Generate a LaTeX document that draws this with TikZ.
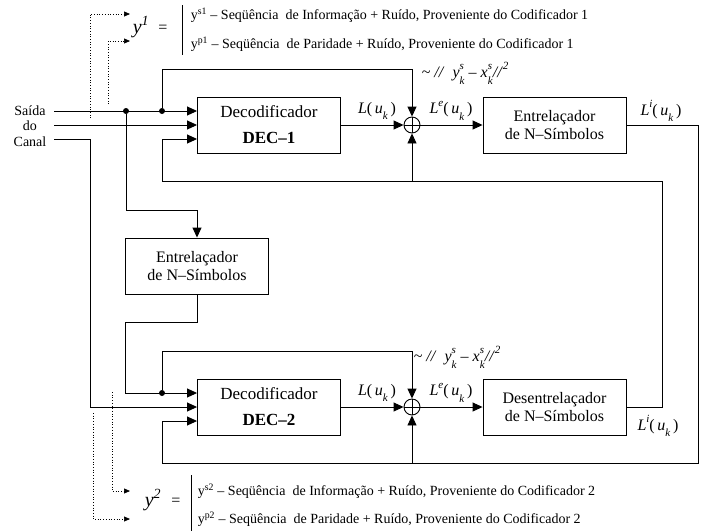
\documentclass[tikz,border=0pt]{standalone}
\usepackage{fontspec}
\setmainfont{Liberation Serif}
\usetikzlibrary{arrows.meta}

\newcommand{\idx}[1]{{\fontsize{11}{11}\selectfont\textit{#1}}}
\newcommand{\Luk}[1]{\textit{L}\raisebox{0.45em}{\idx{#1}}(\,\textit{u}\raisebox{-0.4em}{\idx{k}}\,)}
\newcommand{\supsub}[2]{\rlap{\raisebox{0.5em}{\idx{#1}}}\raisebox{-0.45em}{\idx{#2}}}
\newcommand{\distance}{\textasciitilde\ \textit{//}\ \ \textit{y}\supsub{s}{k}\ –\ \textit{x}\supsub{s}{k}\textit{//}\raisebox{0.5em}{\idx{2}}}

\begin{document}
\begin{tikzpicture}[x=1pt, y=-1pt, >={Triangle[length=10pt,width=9pt]}, line width=0.9pt,
  block/.style={draw, minimum width=143pt, minimum height=56pt, align=center, font=\fontsize{16}{18}\selectfont},
  decblock/.style={block, font=\fontsize{17}{26}\selectfont},
  sum/.style={draw, circle, minimum size=16pt, inner sep=0pt,
    path picture={\draw (path picture bounding box.north) -- (path picture bounding box.south)
      (path picture bounding box.west) -- (path picture bounding box.east);}},
  dot/.style={circle, fill, inner sep=0pt, minimum size=6pt},
  lab/.style={font=\fontsize{16}{18}\selectfont},
  legend/.style={anchor=west, font=\fontsize{14}{16}\selectfont},
  hint/.style={dotted, line width=0.7pt, -{Triangle[length=6pt,width=5pt]}}]
\useasboundingbox (0,0) rectangle (707,531);

\node[name=canal, align=center, font=\fontsize{14}{15.5}\selectfont] at (30,126) {Saída\\do\\Canal};
\coordinate (in_1) at (54,111);
\coordinate (in_2) at (54,125);
\coordinate (in_3) at (54,139);

\node[decblock, name=dec_1] at (269,125) {Decodificador\\\textbf{DEC–1}};
\node[sum, name=sum_1] at (412,125) {};
\node[block, name=ent_1] at (554.5,125) {Entrelaçador\\de N–Símbolos};
\node[block, name=ent_2] at (197,266) {Entrelaçador\\de N–Símbolos};
\node[decblock, name=dec_2] at (269,407) {Decodificador\\\textbf{DEC–2}};
\node[sum, name=sum_2] at (412,407) {};
\node[block, name=desent] at (554.5,407) {Desentrelaçador\\de N–Símbolos};

\node[dot, name=dot_1] at (126,111) {};
\node[dot, name=dot_2] at (162,111) {};
\node[dot, name=dot_3] at (162,393) {};

\coordinate (fb_1) at (162,181);
\coordinate (fb_2) at (162,463);

\draw[->] (in_1) -- (dec_1.west |- in_1);
\draw[->] (in_2) -- (dec_1.west |- in_2);
\draw[->] (in_3) -- (90,139) -- (90,407) -- (dec_2.west);
\draw[->] (dot_2) -- ++(0,-42) -| (sum_1.north);
\draw[->] (dot_1) -- ++(0,99) -| (ent_2.north);
\draw[->] (ent_2.south) -- ++(0,28) -| (125,393) -- (dec_2.west |- dot_3);
\draw[->] (dot_3) -- ++(0,-42) -| (sum_2.north);

\draw[->] (dec_1.east) -- (sum_1.west);
\draw[->] (sum_1.east) -- (ent_1.west);
\draw[->] (dec_2.east) -- (sum_2.west);
\draw[->] (sum_2.east) -- (desent.west);

\draw[->] (ent_1.east) -- (698,125) -- (698,463) -- (fb_2) -- (162,421) -- (dec_2.west |- 0,421);
\draw[->] (sum_2 |- fb_2) -- (sum_2.south);
\draw[->] (desent.east) -- (662,407) -- (662,181) -- (fb_1) -- (162,139) -- (dec_1.west |- in_3);
\draw[->] (sum_1 |- fb_1) -- (sum_1.south);

\node[lab, name=l_1] at (377,111) {\Luk{}};
\node[lab, name=le_1] at (451,111) {\Luk{e}};
\node[lab, name=li_1] at (661,111) {\Luk{i}};
\node[lab, name=d_1, anchor=west] at (418,73) {\distance};
\node[lab, name=l_2] at (377,393) {\Luk{}};
\node[lab, name=le_2] at (451,393) {\Luk{e}};
\node[lab, name=li_2] at (658,426) {\Luk{i}};
\node[lab, name=d_2, anchor=west] at (410,357) {\distance};

\node[name=y_1, font=\fontsize{20}{22}\selectfont\itshape] at (141,27) {y\textsuperscript{1}};
\node[name=eq_1, font=\fontsize{16}{18}\selectfont] at (163,29) {=};
\draw (182,5) -- (182,55);
\node[legend, name=leg_s1] at (187,15) {y\textsuperscript{s1} – Seqüência\ \ de Informação + Ruído, Proveniente do Codificador 1};
\node[legend, name=leg_p1] at (187,44) {y\textsuperscript{p1} – Seqüência\ \ de Paridade + Ruído, Proveniente do Codificador 1};
\coordinate (h_s1) at (130,14);
\coordinate (h_p1) at (130,41);
\draw[hint] (90,118) -- (90,14) -- (h_s1);
\draw[hint] (108,104) -- (108,41) -- (h_p1);

\node[name=y_2, font=\fontsize{20}{22}\selectfont\itshape] at (153,500) {y\textsuperscript{2}};
\node[name=eq_2, font=\fontsize{16}{18}\selectfont] at (176,502) {=};
\draw (191,475) -- (191,531);
\node[legend, name=leg_s2] at (194,491) {y\textsuperscript{s2} – Seqüência\ \ de Informação + Ruído, Proveniente do Codificador 2};
\node[legend, name=leg_p2] at (194,519) {y\textsuperscript{p2} – Seqüência\ \ de Paridade + Ruído, Proveniente do Codificador 2};
\coordinate (h_s2) at (130,491);
\coordinate (h_p2) at (130,519);
\draw[hint] (112,392) -- (112,491) -- (h_s2);
\draw[hint] (93,413) -- (93,519) -- (h_p2);
\end{tikzpicture}
\end{document}
